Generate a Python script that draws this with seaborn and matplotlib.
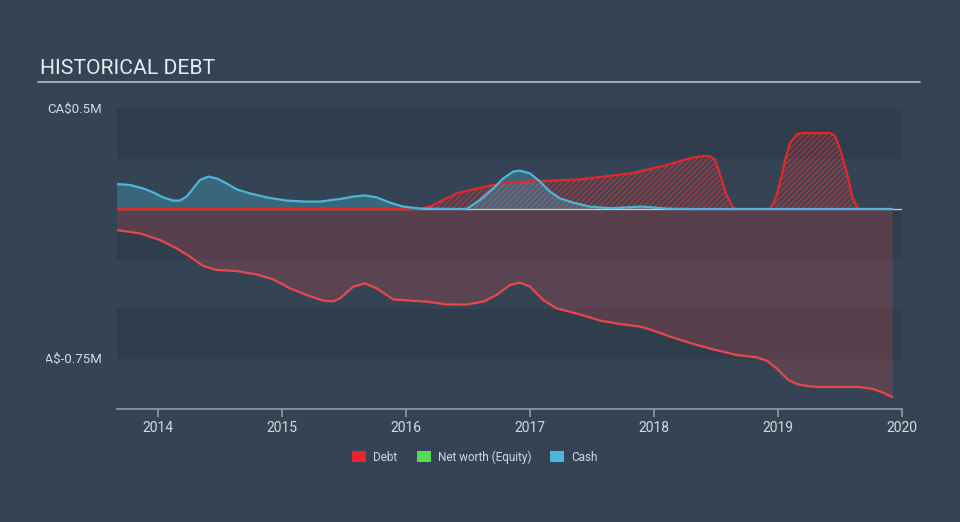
import matplotlib
matplotlib.use("Agg")
import matplotlib.pyplot as plt
import seaborn as sns
import pandas as pd
from matplotlib.patches import Patch
from matplotlib.transforms import Bbox, TransformedBbox

# ---------------- data (CA$ millions, x in fractional years) ----------------
equity_x = [2013.667, 2013.855, 2014.016, 2014.151, 2014.258, 2014.365, 2014.473, 2014.635,
            2014.796, 2014.930, 2015.065, 2015.199, 2015.333, 2015.414, 2015.468, 2015.575,
            2015.669, 2015.764, 2015.898, 2016.032, 2016.167, 2016.328, 2016.489, 2016.623,
            2016.731, 2016.839, 2016.919, 2017.000, 2017.107, 2017.215, 2017.349, 2017.484,
            2017.565, 2017.726, 2017.887, 2017.968, 2018.129, 2018.317, 2018.478, 2018.667,
            2018.828, 2018.909, 2018.990, 2019.083, 2019.153, 2019.242, 2019.339, 2019.661,
            2019.766, 2019.847, 2019.920]
equity_y = [-0.105, -0.122, -0.155, -0.197, -0.238, -0.285, -0.305, -0.310,
            -0.327, -0.352, -0.397, -0.430, -0.458, -0.462, -0.447, -0.388,
            -0.372, -0.397, -0.452, -0.458, -0.463, -0.477, -0.478, -0.463,
            -0.430, -0.380, -0.368, -0.388, -0.455, -0.497, -0.518, -0.542,
            -0.558, -0.575, -0.588, -0.602, -0.638, -0.675, -0.702, -0.730,
            -0.742, -0.758, -0.797, -0.855, -0.875, -0.886, -0.890, -0.890,
            -0.900, -0.918, -0.940]

debt_x = [2013.667, 2016.113, 2016.194, 2016.301, 2016.409, 2016.543, 2016.704, 2016.812,
          2016.973, 2017.188, 2017.403, 2017.565, 2017.831, 2018.105, 2018.315, 2018.400,
          2018.450, 2018.490, 2018.530, 2018.580, 2018.630, 2018.655, 2018.935, 2018.975,
          2019.016, 2019.060, 2019.097, 2019.153, 2019.200, 2019.419, 2019.460, 2019.500,
          2019.556, 2019.600, 2019.637, 2019.660, 2019.920]
debt_y = [0.000, 0.000, 0.012, 0.045, 0.078, 0.098, 0.120, 0.132,
          0.137, 0.142, 0.148, 0.160, 0.180, 0.220, 0.258, 0.265,
          0.264, 0.250, 0.178, 0.078, 0.015, 0.000, 0.000, 0.040,
          0.128, 0.250, 0.330, 0.375, 0.380, 0.380, 0.365, 0.300,
          0.180, 0.060, 0.010, 0.000, 0.000]

cash_x = [2013.667, 2013.774, 2013.881, 2013.962, 2014.043, 2014.123, 2014.177, 2014.231,
          2014.285, 2014.339, 2014.406, 2014.473, 2014.554, 2014.635, 2014.742, 2014.877,
          2015.038, 2015.199, 2015.306, 2015.468, 2015.575, 2015.669, 2015.764, 2015.871,
          2015.978, 2016.113, 2016.489, 2016.597, 2016.704, 2016.785, 2016.865, 2016.919,
          2017.000, 2017.081, 2017.161, 2017.242, 2017.349, 2017.480, 2017.650, 2017.780,
          2017.911, 2018.100, 2018.300, 2019.920]
cash_y = [0.125, 0.120, 0.103, 0.083, 0.058, 0.042, 0.042, 0.062,
          0.103, 0.145, 0.162, 0.153, 0.128, 0.098, 0.078, 0.058,
          0.042, 0.037, 0.037, 0.050, 0.062, 0.068, 0.058, 0.032,
          0.012, 0.002, 0.000, 0.045, 0.103, 0.153, 0.187, 0.192,
          0.178, 0.137, 0.087, 0.053, 0.032, 0.012, 0.004, 0.008,
          0.012, 0.002, 0.000, 0.000]

year_ticks = [2014, 2015, 2016, 2017, 2018, 2019, 2020]
y_ticks = [0.5, -0.75]
y_tick_labels = ["CA$0.5M", "CA$-0.75M"]
legend_labels = ["Debt", "Net worth (Equity)", "Cash"]

# ---------------- styling ----------------
BG = "#344454"
BAND = "#2f3d4d"
TXT = "#d4d9de"
RED_LINE = "#e8474b"
DEBT_RED = "#e3282c"
CASH = "#4bb6d8"

sns.set_theme(style="dark")
plt.rcParams["font.family"] = ["Roboto", "DejaVu Sans"]
plt.rcParams["hatch.linewidth"] = 0.6

fig = plt.figure(figsize=(9.6, 5.22), dpi=100, facecolor=BG)
ax = fig.add_axes([117/960, 1-409/522, (902-117)/960, 300/522])
ax.set_facecolor(BG)

ax.set_xlim(2013.67, 2020.0)
ax.set_ylim(-1.0, 0.5)

# alternating bands
for top in [0.5, 0.0, -0.5]:
    ax.axhspan(top - 0.25, top, color=BAND, zorder=0, lw=0)

df_eq = pd.DataFrame({"x": equity_x, "y": equity_y})
df_debt = pd.DataFrame({"x": debt_x, "y": debt_y})
df_cash = pd.DataFrame({"x": cash_x, "y": cash_y})

# equity
ax.fill_between(df_eq["x"], 0, df_eq["y"], color=RED_LINE, alpha=0.22, lw=0, zorder=1)
sns.lineplot(data=df_eq, x="x", y="y", ax=ax, color=RED_LINE, lw=1.6, zorder=4)

# debt (hatched)
ax.fill_between(df_debt["x"], 0, df_debt["y"], facecolor=(0.89, 0.16, 0.17, 0.14),
                edgecolor=(0.89, 0.25, 0.27, 0.75), hatch="//////", lw=0, zorder=2)
sns.lineplot(data=df_debt, x="x", y="y", ax=ax, color=DEBT_RED, lw=1.6, zorder=5)

# cash
ax.fill_between(df_cash["x"], 0, df_cash["y"], color=CASH, alpha=0.30, lw=0, zorder=3)
sns.lineplot(data=df_cash, x="x", y="y", ax=ax, color=CASH, lw=1.6, zorder=6)

# zero line
ax.axhline(0, color="#c8ced4", lw=0.9, zorder=3.5)

# axes cosmetics
for s in ["top", "right", "left"]:
    ax.spines[s].set_visible(False)
ax.spines["bottom"].set_color("#8d9bab")
ax.spines["bottom"].set_linewidth(1.2)
ax.set_xticks(year_ticks)
ax.set_xticklabels([str(y) for y in year_ticks])
ax.tick_params(axis="x", colors="#8d9bab", length=6, width=1.2, direction="out",
               labelcolor=TXT, labelsize=10, pad=3, bottom=True)
ax.set_yticks(y_ticks)
ax.set_yticklabels(y_tick_labels)
ax.tick_params(axis="y", length=0, labelcolor=TXT, labelsize=9.5, pad=10.8)
ax.set_xlabel("")
ax.set_ylabel("")
ax.grid(False)

# clip y labels at the left edge like the reference
clip = TransformedBbox(Bbox([[46/960, 0], [1, 1]]), fig.transFigure)
for t in ax.get_yticklabels():
    t.set_clip_on(True)
    t.set_clip_box(clip)
    t.set_verticalalignment("center")

# title and rule
fig.text(40/960, 1-69/522, "HISTORICAL DEBT", color="#e8ecef", fontsize=15.2,
         va="center", ha="left")
fig.add_artist(plt.Line2D([38/960, 920/960], [1-82/522, 1-82/522],
                          transform=fig.transFigure, color="#b9c1c9", lw=1.2))

# legend
handles = [Patch(facecolor="#e8262a", edgecolor="none"),
           Patch(facecolor="#4fe04f", edgecolor="none"),
           Patch(facecolor="#4ab8dc", edgecolor="none")]
fig.legend(handles, legend_labels, loc="center", bbox_to_anchor=(475/960, 1-457/522),
           ncol=3, frameon=False, fontsize=8.5, labelcolor=TXT,
           handlelength=1.2, handleheight=1.1, handletextpad=0.6, columnspacing=1.6)

fig.savefig("out.png", dpi=100, facecolor=BG)
